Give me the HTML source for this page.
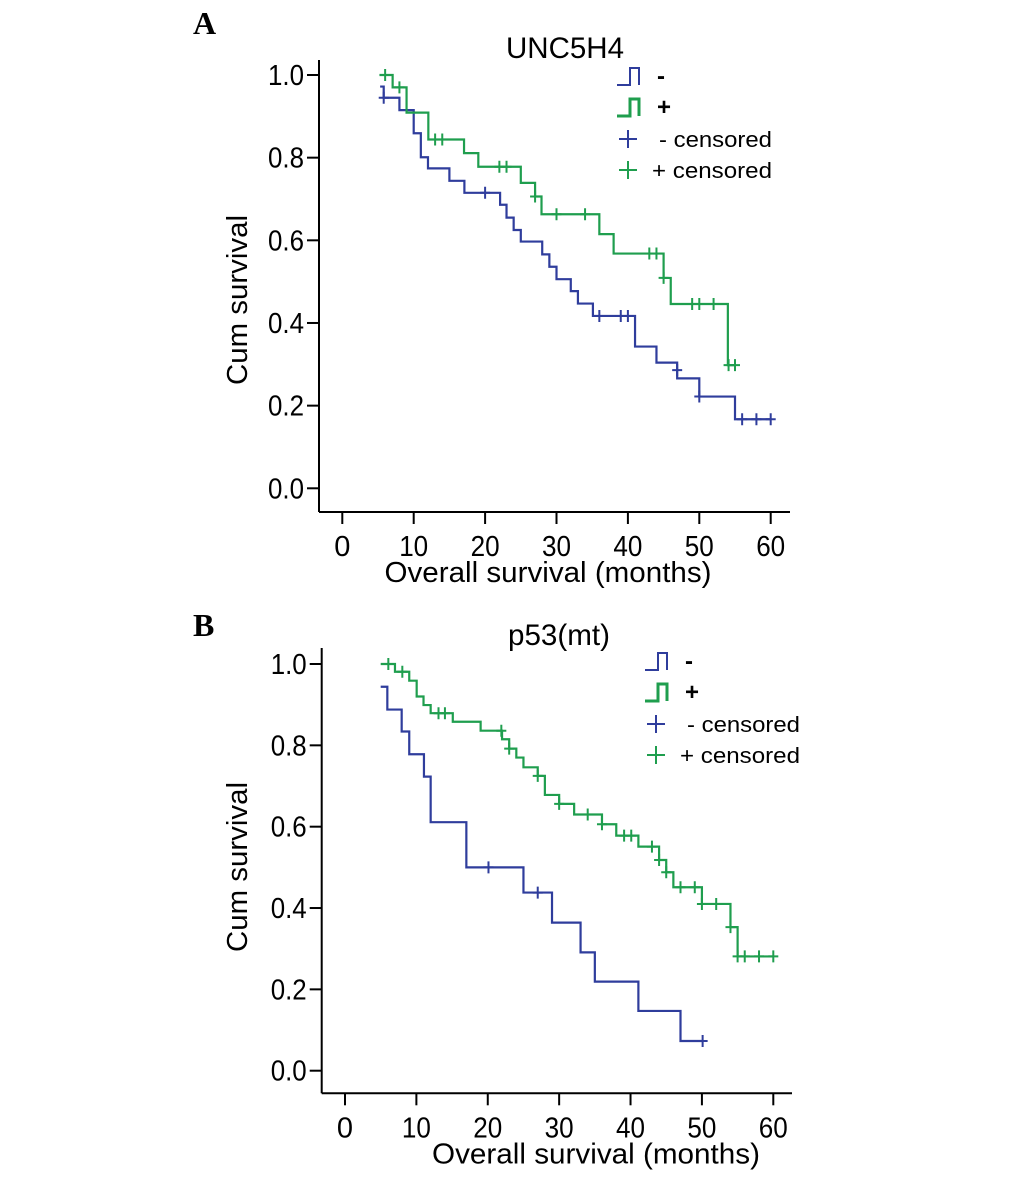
<!DOCTYPE html>
<html><head><meta charset="utf-8"><style>
body{margin:0;background:#fff;}
svg{display:block;}
text{font-family:"Liberation Sans",sans-serif;fill:#000;}
</style></head><body>
<svg id="chart" width="1033" height="1180" viewBox="0 0 1033 1180" xmlns="http://www.w3.org/2000/svg">
<text x="193" y="34" style="font-family:'Liberation Serif',serif;font-weight:bold;font-size:32px">A</text>
<text x="565" y="58" text-anchor="middle" font-size="30" textLength="118" lengthAdjust="spacingAndGlyphs">UNC5H4</text>
<text x="193" y="636" style="font-family:'Liberation Serif',serif;font-weight:bold;font-size:32px">B</text>
<text x="559" y="645" text-anchor="middle" font-size="30" textLength="102" lengthAdjust="spacingAndGlyphs">p53(mt)</text>
<g id="pa"></g>
<g id="pb"></g>
</svg>
<script>
const xTicks=[0,10,20,30,40,50,60];
const yTicks=[0,0.2,0.4,0.6,0.8,1.0];
const yTickLabels=["0.0","0.2","0.4","0.6","0.8","1.0"];
// Panel A, "-" group (blue)
const aNegStart=0.972, aNegStartT=5.3;
const aNegDropT=[5.8,8,10,11,12,15,17.1,22.1,23,24,25,28,29,30,32,33,35.1,41,44,46.9,50,55];
const aNegDropS=[0.945,0.915,0.859,0.801,0.774,0.744,0.715,0.686,0.655,0.625,0.597,0.566,0.536,0.506,0.477,0.447,0.417,0.343,0.304,0.266,0.222,0.167];
const aNegCensT=[5.8,20,36,39,40,46.9,50,56,58,60];
const aNegCensS=[0.945,0.715,0.417,0.417,0.417,0.286,0.222,0.167,0.167,0.167];
// Panel A, "+" group (green)
const aPosStart=1.0, aPosStartT=5.2;
const aPosDropT=[7.05,9,12.05,17.05,19.05,25,27,27.9,36,38,45,46,54];
const aPosDropS=[0.970,0.909,0.844,0.811,0.778,0.739,0.706,0.663,0.615,0.568,0.509,0.446,0.298];
const aPosCensT=[6,8,13,14,22,23,27,30,34,43,44,45,49,50,52,54.1,55];
const aPosCensS=[1.0,0.970,0.844,0.844,0.778,0.778,0.706,0.663,0.663,0.568,0.568,0.509,0.446,0.446,0.446,0.298,0.298];
// Panel B, "-" group (blue)
const bNegStart=0.944, bNegStartT=5;
const bNegDropT=[5.93,7.94,9,11.06,12,17,25,29,33,35,41.1,47];
const bNegDropS=[0.888,0.834,0.778,0.723,0.611,0.5,0.438,0.364,0.291,0.219,0.147,0.073];
const bNegCensT=[20.1,27,50.1];
const bNegCensS=[0.5,0.438,0.073];
// Panel B, "+" group (green)
const bPosStart=1.0, bPosStartT=5;
const bPosDropT=[7,9,10.04,11,12,15.1,19,22,23,24,25,27,28,30,32.1,36,38,41.1,44,45,46,50,54,55];
const bPosDropS=[0.981,0.959,0.92,0.899,0.879,0.858,0.836,0.815,0.792,0.77,0.746,0.725,0.678,0.656,0.63,0.606,0.578,0.551,0.518,0.488,0.451,0.41,0.353,0.281];
const bPosCensT=[6.07,8.03,13.1,14,21.9,23,27,30,34,36,39.1,40.1,43,44,45,47,49,50,52,54,55,56,58,60];
const bPosCensS=[1.0,0.981,0.879,0.879,0.836,0.792,0.725,0.656,0.63,0.606,0.578,0.578,0.551,0.518,0.488,0.451,0.451,0.41,0.41,0.353,0.281,0.281,0.281,0.281];

const NS="http://www.w3.org/2000/svg";
const BLUE="#2f3d9c", GREEN="#1f9e4e";
function mk(tag,attrs,parent){const e=document.createElementNS(NS,tag);for(const k in attrs)e.setAttribute(k,attrs[k]);parent.appendChild(e);return e;}

function panel(g,cfg){
  const xs=t=>cfg.x0+t*(cfg.x60-cfg.x0)/60;
  const ys=s=>cfg.y0+s*(cfg.y1-cfg.y0);
  let e;
  e=mk("line",{x1:cfg.axX,y1:cfg.axTop,x2:cfg.axX,y2:cfg.axY,stroke:"#000","stroke-width":2},g);
  
  
  e=mk("line",{x1:cfg.axX,y1:cfg.axY,x2:cfg.axRight,y2:cfg.axY,stroke:"#000","stroke-width":2},g);
  
  
  xTicks.forEach(t=>{
    e=mk("line",{x1:xs(t),y1:cfg.axY,x2:xs(t),y2:cfg.axY+12,stroke:"#000","stroke-width":2},g);
    
    
    e=mk("text",{x:xs(t),y:cfg.axY+44,"text-anchor":"middle","font-size":29},g);
    if(t>=10){e.setAttribute("textLength","29");e.setAttribute("lengthAdjust","spacingAndGlyphs");}
    e.textContent=String(t);
    
    
  });
  yTicks.forEach((v,i)=>{
    e=mk("line",{x1:cfg.axX-12,y1:ys(v),x2:cfg.axX,y2:ys(v),stroke:"#000","stroke-width":2},g);
    
    
    e=mk("text",{x:cfg.axX-15,y:ys(v)+10,"text-anchor":"end","font-size":29,textLength:36,lengthAdjust:"spacingAndGlyphs"},g);
    e.textContent=yTickLabels[i];
    
    
  });
  e=mk("text",{x:cfg.xtX,y:cfg.axY+70,"text-anchor":"middle","font-size":29,textLength:cfg.xtW,lengthAdjust:"spacingAndGlyphs"},g);
  e.textContent="Overall  survival (months)";
  
  
  e=mk("text",{x:0,y:0,"text-anchor":"middle","font-size":29,textLength:170,lengthAdjust:"spacingAndGlyphs",transform:`translate(${cfg.ytX},${cfg.ytY}) rotate(-90)`},g);
  e.textContent="Cum survival";
  
  

  cfg.series.forEach(s=>{
    let d=`M${xs(s.t0)},${ys(s.s0)}`;let cur=s.s0;
    s.dt.forEach((t,i)=>{d+=` H${xs(t)} V${ys(s.ds[i])}`;cur=s.ds[i];});
    const endT=Math.max(s.dt[s.dt.length-1],s.ct[s.ct.length-1]);
    d+=` H${xs(endT)}`;
    const p=mk("path",{d:d,fill:"none",stroke:s.color,"stroke-width":2.2},g);
    
    
    s.ct.forEach((t,i)=>{
      const c=mk("path",{d:`M${xs(t)-5},${ys(s.cs[i])} H${xs(t)+5} M${xs(t)},${ys(s.cs[i])-6} V${ys(s.cs[i])+6}`,stroke:s.color,"stroke-width":2,fill:"none"},g);
      
      
    });
  });
  // legend
  const L=cfg.leg;
  const rows=[["M0,17 H13 V0 H22 V17",BLUE,"-"],["M0,17 H13 V0 H22 V17",GREEN,"+"]];
  rows.forEach((r,i)=>{
    const y=L.y+i*L.dy;
    const ic=mk("path",{d:r[0],transform:`translate(${L.x},${y-17})`,fill:"none",stroke:r[1],"stroke-width":i?3:2},g);
    
    
    const tx=mk("text",{x:L.x+40,y:y-1,"font-size":24,"font-weight":"bold"},g);
    tx.textContent=r[2];
    
    
  });
  [[BLUE,"-  censored"],[GREEN,"+ censored"]].forEach((r,i)=>{
    const y=L.y+(i+2)*L.dy-8;
    const m=mk("path",{d:`M${L.x+2},${y} H${L.x+20} M${L.x+11},${y-9} V${y+9}`,stroke:r[0],"stroke-width":2,fill:"none"},g);
    
    
    const tx=mk("text",{x:L.x+(i?35:42),y:y+8,"font-size":22,textLength:i?120:113,lengthAdjust:"spacingAndGlyphs"},g);
    tx.textContent=r[1];
    
    
  });
}

panel(document.getElementById("pa"),{x0:342.3,x60:770.7,y0:488.3,y1:75,axX:319,axY:512,axTop:60,axRight:790,
  xtX:548,xtW:327,ytX:247,ytY:300,leg:{x:617,y:85,dy:31},
  series:[
   {name:'minus',color:BLUE,t0:aNegStartT,s0:aNegStart,dt:aNegDropT,ds:aNegDropS,ct:aNegCensT,cs:aNegCensS},
   {name:'plus',color:GREEN,t0:aPosStartT,s0:aPosStart,dt:aPosDropT,ds:aPosDropS,ct:aPosCensT,cs:aPosCensS}]});
panel(document.getElementById("pb"),{x0:345,x60:773.3,y0:1070.7,y1:664,axX:321.7,axY:1093.3,axTop:648,axRight:792,
  xtX:596,xtW:328,ytX:247,ytY:867,leg:{x:645,y:670,dy:31},
  series:[
   {name:'minus',color:BLUE,t0:bNegStartT,s0:bNegStart,dt:bNegDropT,ds:bNegDropS,ct:bNegCensT,cs:bNegCensS},
   {name:'plus',color:GREEN,t0:bPosStartT,s0:bPosStart,dt:bPosDropT,ds:bPosDropS,ct:bPosCensT,cs:bPosCensS}]});
</script>
</body></html>
